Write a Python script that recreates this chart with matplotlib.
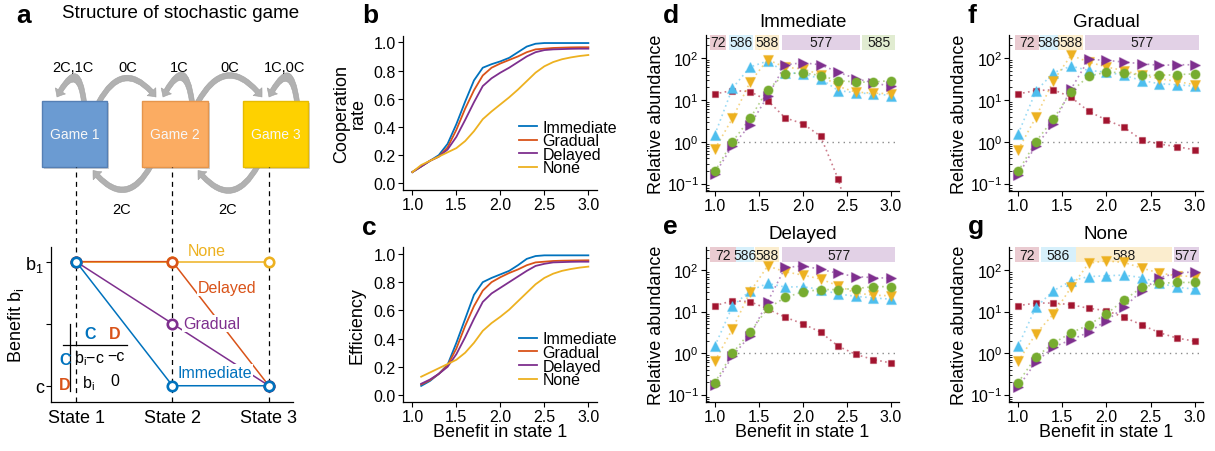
import numpy as np
import matplotlib
matplotlib.use("Agg")
import matplotlib.pyplot as plt
from matplotlib.colors import to_rgba
from matplotlib.patches import FancyArrowPatch, Rectangle

plt.rcParams.update({
    "font.family": ["Liberation Sans", "DejaVu Sans"],
    "mathtext.fontset": "custom",
    "mathtext.rm": "Liberation Sans",
    "mathtext.it": "Liberation Sans:italic",
    "mathtext.bf": "Liberation Sans:bold",
    "axes.linewidth": 0.9,
    "xtick.major.width": 0.8,
    "ytick.major.width": 0.8,
})

W, H = 1215, 452

C_BLUE = "#0072BD"
C_ORANGE = "#D95319"
C_YELLOW = "#EDB120"
C_PURPLE = "#7E2F8E"
C_CYAN = "#4DBEEE"
C_GREEN = "#77AC30"
C_CRIMSON = "#A2142F"

# ---- panel a: benefit per state for each schedule
states = [1, 2, 3]
state_labels = ["State 1", "State 2", "State 3"]
benefit_none = [1.0, 1.0, 1.0]
benefit_delayed = [1.0, 1.0, 0.0]
benefit_gradual = [1.0, 0.5, 0.0]
benefit_immediate = [1.0, 0.0, 0.0]

game_names = ["Game 1", "Game 2", "Game 3"]
game_faces = ["#6b9bd2", "#fbac62", "#fed100"]
game_edges = ["#557fb4", "#e5954c", "#e6bb00"]
loop_labels = ["2C,1C", "1C", "1C,0C"]
forward_labels = ["0C", "0C"]
backward_labels = ["2C", "2C"]

# ---- panels b, c
benefit_fine = np.round(np.arange(1.0, 3.001, 0.1), 1)
coop_immediate = [0.08, 0.12, 0.16, 0.20, 0.28, 0.42, 0.58, 0.73, 0.82, 0.845, 0.865,
                  0.89, 0.93, 0.97, 0.99, 0.995, 0.995, 0.995, 0.995, 0.995, 0.995]
coop_gradual = [0.08, 0.12, 0.16, 0.19, 0.255, 0.38, 0.53, 0.66, 0.765, 0.82, 0.85,
                0.875, 0.90, 0.93, 0.95, 0.955, 0.96, 0.962, 0.964, 0.965, 0.965]
coop_delayed = [0.08, 0.12, 0.16, 0.19, 0.24, 0.33, 0.45, 0.575, 0.69, 0.745, 0.785,
                0.82, 0.86, 0.90, 0.93, 0.945, 0.95, 0.952, 0.954, 0.955, 0.955]
coop_none = [0.08, 0.13, 0.16, 0.19, 0.22, 0.25, 0.30, 0.37, 0.455, 0.51, 0.56,
             0.61, 0.665, 0.725, 0.785, 0.83, 0.86, 0.88, 0.893, 0.903, 0.91]

eff_immediate = [0.065, 0.10, 0.15, 0.215, 0.37, 0.54, 0.71, 0.80, 0.83, 0.855,
                 0.88, 0.92, 0.965, 0.985, 0.99, 0.99, 0.99, 0.99, 0.99, 0.99]
eff_gradual = [0.075, 0.105, 0.15, 0.21, 0.33, 0.49, 0.63, 0.74, 0.80, 0.835,
               0.865, 0.89, 0.92, 0.94, 0.945, 0.95, 0.952, 0.953, 0.954, 0.955]
eff_delayed = [0.08, 0.11, 0.15, 0.20, 0.29, 0.41, 0.54, 0.66, 0.72, 0.76,
               0.80, 0.84, 0.88, 0.915, 0.93, 0.94, 0.942, 0.944, 0.945, 0.945]
eff_none = [0.13, 0.16, 0.19, 0.22, 0.25, 0.30, 0.37, 0.455, 0.51, 0.555,
            0.605, 0.665, 0.725, 0.785, 0.83, 0.86, 0.88, 0.893, 0.903, 0.91]

schedule_names = ["Immediate", "Gradual", "Delayed", "None"]
schedule_colors = [C_BLUE, C_ORANGE, C_PURPLE, C_YELLOW]

# ---- panels d-g: relative abundance of strategies
benefit_coarse = [1.0, 1.2, 1.4, 1.6, 1.8, 2.0, 2.2, 2.4, 2.6, 2.8, 3.0]
strategy_ids = ["72", "586", "588", "577", "585"]
strategy_colors = [C_CRIMSON, C_CYAN, C_YELLOW, C_PURPLE, C_GREEN]
strategy_markers = ["s", "^", "v", ">", "o"]
strategy_sizes = [5.0, 7.2, 7.2, 7.2, 6.6]

imm_72 = [13.9, 16.7, 15.8, 9.6, 3.7, 2.7, 1.35, 0.128, 0.005, 0.003, 0.002]
imm_586 = [1.47, 19, 61, 85, 45, 42, 32, 16.7, 14.7, 14, 12.7]
imm_588 = [0.67, 3.6, 26.5, 91, 60, 55, 40, 21, 15.3, 14.5, 14]
imm_577 = [0.17, 0.8, 2.5, 12.3, 69, 77, 69, 46, 32, 25.6, 21]
imm_585 = [0.195, 1.0, 3.6, 17.6, 42, 44.5, 38, 29, 26.6, 26.6, 29]

del_72 = [13.9, 18.3, 17.4, 11.6, 7.3, 5.1, 3.2, 1.47, 0.93, 0.7, 0.58]
del_586 = [1.47, 13.4, 32, 48, 39, 40, 34, 26.6, 23.4, 21.3, 20]
del_588 = [0.64, 3.8, 30, 126, 91, 76, 61, 42, 28, 25, 24]
del_577 = [0.17, 0.85, 2.65, 17.4, 116, 126, 105, 83, 70, 66, 64]
del_585 = [0.195, 1.0, 3.2, 12, 22, 30, 34, 34, 36, 40, 40]

grad_72 = [13.9, 16.7, 17.4, 11.6, 5.3, 3.3, 2.2, 1.1, 0.88, 0.76, 0.64]
grad_586 = [1.53, 16, 44.7, 64, 50.5, 46, 38.5, 29, 24.3, 23, 21.2]
grad_588 = [0.64, 3.8, 29, 116, 80, 61, 50, 38.5, 32, 27.5, 23]
grad_577 = [0.16, 0.8, 2.65, 18.3, 93, 88, 80, 73, 67, 69, 69]
grad_585 = [0.195, 1.0, 3.5, 15.8, 37, 46, 44.5, 38.5, 38.5, 40, 42]

none_72 = [13.9, 16.1, 16.1, 14.7, 12, 10.6, 7.3, 4.8, 3.1, 2.3, 1.94]
none_586 = [1.47, 12.7, 32, 55, 70, 73, 76, 66, 49, 38.5, 35]
none_588 = [0.63, 2.9, 8.8, 38.5, 147, 167, 153, 112, 85, 73, 70]
none_577 = [0.15, 0.61, 1.4, 2.1, 3.2, 6.1, 12.7, 32, 66, 85, 91]
none_585 = [0.195, 0.8, 1.74, 3.1, 4.8, 8.8, 19, 38.5, 48, 50.5, 50.5]

# benefit ranges where one strategy is the most abundant
bands_immediate = [("72", 0.95, 1.13), ("586", 1.16, 1.435), ("588", 1.455, 1.73),
                   ("577", 1.76, 2.65), ("585", 2.67, 3.05)]
bands_delayed = [("72", 0.95, 1.24), ("586", 1.245, 1.45), ("588", 1.455, 1.73),
                 ("577", 1.76, 3.05)]
bands_gradual = [("72", 0.96, 1.24), ("586", 1.25, 1.45), ("588", 1.455, 1.74),
                 ("577", 1.76, 3.05)]
bands_none = [("72", 0.96, 1.24), ("586", 1.26, 1.65), ("588", 1.66, 2.74),
              ("577", 2.76, 3.05)]

fig = plt.figure(figsize=(W / 100, H / 100), dpi=100)


def px_axes(left, top, right, bottom):
    return fig.add_axes([left / W, 1 - bottom / H, (right - left) / W, (bottom - top) / H])


def style_axes(ax):
    ax.spines["top"].set_visible(False)
    ax.spines["right"].set_visible(False)
    ax.tick_params(direction="out", length=3.5, pad=1.5, labelsize=11.5)


def panel_letter(x, y, s):
    fig.text(x / W, 1 - y / H, s, fontsize=19, fontweight="bold", va="baseline", ha="left")


# ---------------- panel a, lower part
ax_a = px_axes(51, 248, 293, 403)
style_axes(ax_a)
ax_a.set_xlim(0.74, 3.25)
ax_a.set_ylim(-0.131, 1.118)
box_bottom_y = 1.764
ax_a.vlines(states, -0.131, box_bottom_y, colors="black", linestyles=(0, (4, 3.5)),
            lw=0.9, clip_on=False, zorder=1)
for vals, col in [(benefit_none, C_YELLOW), (benefit_delayed, C_ORANGE),
                  (benefit_gradual, C_PURPLE), (benefit_immediate, C_BLUE)]:
    ax_a.plot(states, vals, color=col, lw=1.1, marker="o", ms=6.8, mfc="white",
              mec=col, mew=1.9, zorder=3, clip_on=False)
lab_kw = dict(fontsize=11.5, va="center", zorder=4)
wbox = dict(fc="white", ec="none", pad=0.6)
ax_a.text(2.36, 1.09, "None", color=C_YELLOW, ha="center", **lab_kw)
ax_a.text(2.26, 0.79, "Delayed", color=C_ORANGE, ha="left", bbox=wbox, **lab_kw)
ax_a.text(2.11, 0.5, "Gradual", color=C_PURPLE, ha="left", bbox=wbox, **lab_kw)
ax_a.text(2.05, 0.11, "Immediate", color=C_BLUE, ha="left", bbox=wbox, **lab_kw)

# payoff table for the donation game
ax_a.plot([0.937, 0.937], [-0.04, 0.498], color="black", lw=0.9)
ax_a.plot([0.864, 1.53], [0.331, 0.331], color="black", lw=0.9)
tb = dict(fontsize=11.5, ha="center", va="center", fontweight="bold")
ax_a.text(1.144, 0.42, "C", color=C_BLUE, **tb)
ax_a.text(1.404, 0.42, "D", color=C_ORANGE, **tb)
ax_a.text(0.885, 0.215, "C", color=C_BLUE, **tb)
ax_a.text(0.878, 0.014, "D", color=C_ORANGE, **tb)
te = dict(fontsize=11.5, ha="center", va="center")
ax_a.text(1.135, 0.23, "b$_\\mathrm{i}$\u2212c", **te)
ax_a.text(1.41, 0.245, "\u2212c", **te)
ax_a.text(1.123, 0.025, "b$_\\mathrm{i}$", **te)
ax_a.text(1.404, 0.04, "0", **te)

ax_a.set_yticks([0, 0.5, 1])
ax_a.set_yticklabels(["c", "", "b$_\\mathrm{1}$"], fontsize=13)
ax_a.set_xticks(states)
ax_a.set_xticklabels(state_labels, fontsize=13)
ax_a.tick_params(axis="x", length=0, pad=5)
ax_a.set_ylabel("Benefit b$_\\mathrm{i}$", fontsize=13)
ax_a.yaxis.set_label_coords(-0.105, 0.5)

# ---------------- panel a, game diagram (pixel coordinates)
ax_s = fig.add_axes([0, 0, 1, 1], zorder=-1)
ax_s.set_xlim(0, W)
ax_s.set_ylim(H, 0)
ax_s.axis("off")

state_px = ax_a.transData.transform(np.column_stack([states, np.zeros(3)]))[:, 0]
box_shift = [-1.5, 2.5, 6.5]
box_side = 65.5
box_top = 102
for sx, dx, name, fc, ec in zip(state_px, box_shift, game_names, game_faces, game_edges):
    left = sx + dx - box_side / 2
    ax_s.add_patch(Rectangle((left + 2, box_top + 2), box_side, box_side,
                             fc="#9a9a9a", ec="none", alpha=0.45, zorder=2))
    ax_s.add_patch(Rectangle((left, box_top), box_side, box_side, fc=fc, ec=ec,
                             lw=1, zorder=3))
    ax_s.text(left + box_side / 2, box_top + box_side / 2, name, color="#f7f7f7",
              fontsize=10, ha="center", va="center", zorder=4)

arrow_kw = dict(arrowstyle="simple,head_length=5,head_width=8.5,tail_width=3.6",
                mutation_scale=1, fc="#b1b1b1", ec="#a0a0a0", lw=0.4,
                shrinkA=0, shrinkB=0, zorder=1)
loop_ends = [(84, 57), (192, 163), (297, 269)]
forward_ends = [(99, 156), (198, 262)]
backward_ends = [(151, 93), (258, 198)]
for (x0, x1), lab in zip(loop_ends, loop_labels):
    ax_s.add_patch(FancyArrowPatch((x0, box_top + 1), (x1, box_top - 4),
                                   connectionstyle="arc3,rad=1.6", **arrow_kw))
    ax_s.text((x0 + x1) / 2 + 2, 68, lab, fontsize=10.5, ha="center", va="center")
for (x0, x1), lab in zip(forward_ends, forward_labels):
    ax_s.add_patch(FancyArrowPatch((x0, box_top + 1), (x1, box_top - 4),
                                   connectionstyle="arc3,rad=-0.75", **arrow_kw))
    ax_s.text((x0 + x1) / 2, 68, lab, fontsize=10.5, ha="center", va="center")
for (x0, x1), lab in zip(backward_ends, backward_labels):
    ax_s.add_patch(FancyArrowPatch((x0, box_top + box_side - 1),
                                   (x1, box_top + box_side + 4),
                                   connectionstyle="arc3,rad=-0.75", **arrow_kw))
    ax_s.text((x0 + x1) / 2, 210, lab, fontsize=10.5, ha="center", va="center")

# ---------------- panels b, c
def rate_panel(ax, series, ylabel, label_x, xlabel):
    style_axes(ax)
    for vals, name, col in zip(series, schedule_names, schedule_colors):
        xs = benefit_fine[len(benefit_fine) - len(vals):]
        ax.plot(xs, vals, color=col, lw=1.3, label=name)
    ax.set_xlim(0.89, 3.095)
    ax.set_ylim(-0.047, 1.047)
    ax.set_xticks([1.0, 1.5, 2.0, 2.5, 3.0])
    ax.set_xticklabels(["1.0", "1.5", "2.0", "2.5", "3.0"])
    ax.set_yticks([0, 0.2, 0.4, 0.6, 0.8, 1.0])
    ax.set_yticklabels(["0.0", "0.2", "0.4", "0.6", "0.8", "1.0"])
    ax.set_ylabel(ylabel, fontsize=13, linespacing=1.0)
    ax.yaxis.set_label_coords(label_x, 0.5)
    if xlabel:
        ax.set_xlabel("Benefit in state 1", fontsize=13)
        ax.xaxis.set_label_coords(0.5, -0.14)
    ax.legend(loc="upper left", bbox_to_anchor=(0.602, 0.455), frameon=False,
              fontsize=11.5, handlelength=1.1, handletextpad=0.35,
              labelspacing=-0.09, borderpad=0, borderaxespad=0)


ax_b = px_axes(402.7, 36.7, 596.7, 191)
rate_panel(ax_b, [coop_immediate, coop_gradual, coop_delayed, coop_none],
           "Cooperation\nrate", -0.184, False)
ax_c = px_axes(402.7, 248.3, 596.7, 402.7)
rate_panel(ax_c, [eff_immediate, eff_gradual, eff_delayed, eff_none],
           "Efficiency", -0.19, True)

# ---------------- panels d-g
Y_LO, Y_HI, BAND_LO = 10 ** -1.17, 10 ** 2.55, 10 ** 2.2
X_LO, X_HI = 0.9, 3.09


def abundance_panel(ax, title, series, bands, xlabel):
    style_axes(ax)
    ax.set_yscale("log")
    ax.set_xlim(X_LO, X_HI)
    ax.set_ylim(Y_LO, Y_HI)
    for sid, lo, hi in bands:
        col = strategy_colors[strategy_ids.index(sid)]
        ax.fill_between([lo, hi], BAND_LO, Y_HI, color=col, alpha=0.22, lw=0, zorder=1)
        ax.text((lo + hi) / 2, np.sqrt(BAND_LO * Y_HI), sid, fontsize=10,
                ha="center", va="center", color="#1a1a1a", zorder=2)
    ax.axhline(1, xmin=(1.2 - X_LO) / (X_HI - X_LO), color="#8c8c8c",
               ls=(0, (1, 3)), lw=1, zorder=1)
    for vals, col in zip(series, strategy_colors):
        ax.plot(benefit_coarse, vals, color=col, ls=(0, (1, 2)), lw=1.2,
                alpha=0.55, zorder=2)
    for vals, col, mk, ms in zip(series, strategy_colors, strategy_markers, strategy_sizes):
        ax.plot(benefit_coarse, vals, ls="none", marker=mk, ms=ms, mfc=col,
                mec=to_rgba(col, 0.4), mew=0.9, zorder=3)
    ax.set_xticks([1.0, 1.5, 2.0, 2.5, 3.0])
    ax.set_xticklabels(["1.0", "1.5", "2.0", "2.5", "3.0"])
    ax.set_yticks([0.1, 1, 10, 100])
    ax.tick_params(axis="y", which="minor", direction="in", length=2, width=0.6)
    ax.set_title(title, fontsize=13.5, pad=6.5)
    ax.set_ylabel("Relative abundance", fontsize=13)
    ax.yaxis.set_label_coords(-0.212, 0.5)
    if xlabel:
        ax.set_xlabel("Benefit in state 1", fontsize=13)
        ax.xaxis.set_label_coords(0.5, -0.14)


ax_d = px_axes(706, 36, 899, 191.7)
abundance_panel(ax_d, "Immediate", [imm_72, imm_586, imm_588, imm_577, imm_585],
                bands_immediate, False)
ax_e = px_axes(706, 248.3, 899, 402.7)
abundance_panel(ax_e, "Delayed", [del_72, del_586, del_588, del_577, del_585],
                bands_delayed, True)
ax_f = px_axes(1009.3, 36, 1202.7, 191.7)
abundance_panel(ax_f, "Gradual", [grad_72, grad_586, grad_588, grad_577, grad_585],
                bands_gradual, False)
ax_g = px_axes(1009.3, 248.3, 1202.7, 402.7)
abundance_panel(ax_g, "None", [none_72, none_586, none_588, none_577, none_585],
                bands_none, True)

# ---------------- panel letters and header
panel_letter(16, 23, "a")
fig.text(62 / W, 1 - 18.5 / H, "Structure of stochastic game", fontsize=13.5,
         va="baseline", ha="left")
panel_letter(362, 23, "b")
panel_letter(362, 235, "c")
panel_letter(663, 23, "d")
panel_letter(663, 234, "e")
panel_letter(968, 23, "f")
panel_letter(968, 234, "g")

fig.savefig("out.png", dpi=100)
